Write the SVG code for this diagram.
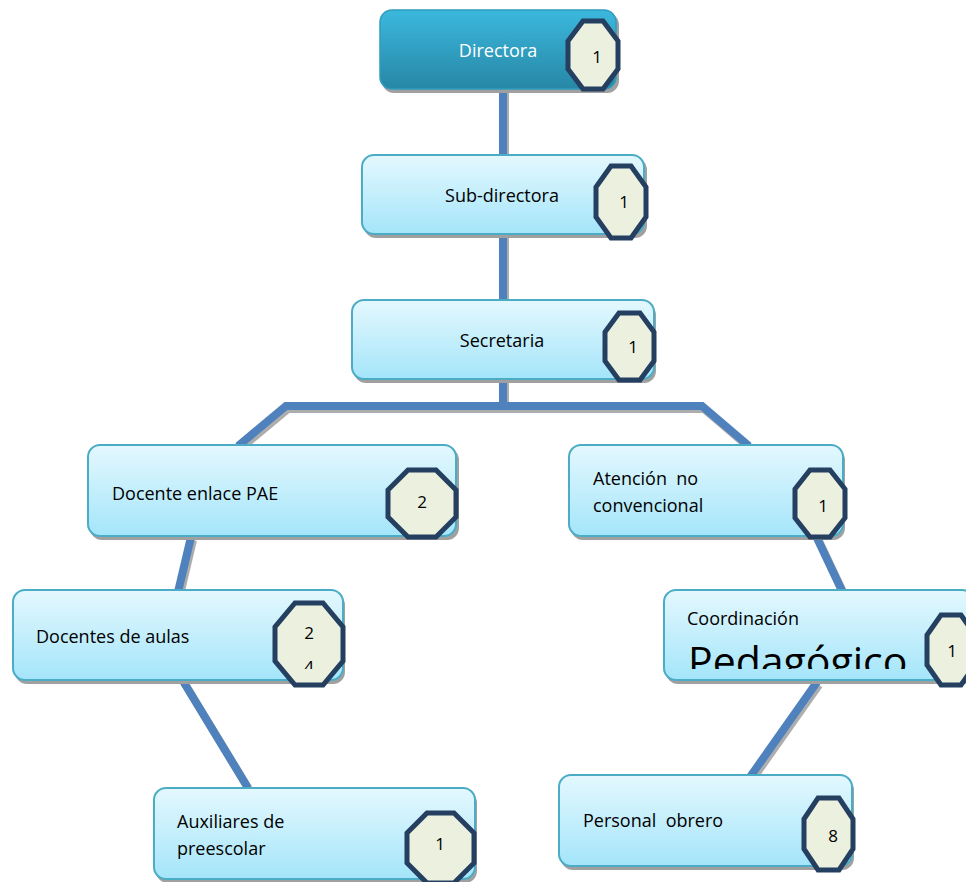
<svg xmlns="http://www.w3.org/2000/svg" width="966" height="882" viewBox="0 0 966 882">
<defs>
<linearGradient id="gLight" x1="0" y1="0" x2="0" y2="1">
<stop offset="0" stop-color="#e4f8fe"/>
<stop offset="1" stop-color="#a4e5fa"/>
</linearGradient>
<linearGradient id="gDark" x1="0" y1="0" x2="0" y2="1">
<stop offset="0" stop-color="#3bb8dd"/>
<stop offset="1" stop-color="#2787a6"/>
</linearGradient>
<clipPath id="clipAulas"><rect x="270" y="600" width="80" height="69"/></clipPath>
<clipPath id="clipCoord"><rect x="660" y="585" width="310" height="84"/></clipPath>
</defs>
<style>
.shadow{fill:#a0a0a0;}
.box{fill:url(#gLight);stroke:#4bacc6;stroke-width:2;}
.boxDark{fill:url(#gDark);stroke:#2f9cbf;stroke-width:1.5;}
.oct{fill:#ebf1de;stroke:#243f60;stroke-width:5;stroke-linejoin:miter;}
.lbl{font-family:"Open Sans","Liberation Sans",sans-serif;font-size:18px;fill:#000;white-space:pre;}
.num{font-family:"Open Sans","Liberation Sans",sans-serif;font-size:17px;fill:#000;text-anchor:middle;}
.conn{stroke:#4f81bd;stroke-width:8;fill:none;stroke-linecap:butt;stroke-linejoin:miter;}
.connSh{stroke:#8a8a8a;stroke-width:8;fill:none;stroke-linecap:butt;opacity:0.7;}
</style>
<rect width="966" height="882" fill="#ffffff"/>

<g id="connectors">
<g transform="translate(2,3)">
<line class="connSh" x1="503" y1="89" x2="503" y2="155"/>
<line class="connSh" x1="503" y1="235" x2="503" y2="300"/>
<line class="connSh" x1="503" y1="380" x2="503" y2="406"/>
<polyline class="connSh" points="238,446 286,406 702,406 749,446"/>
<line class="connSh" x1="191" y1="537" x2="178" y2="592"/>
<line class="connSh" x1="183" y1="681" x2="248" y2="788"/>
<line class="connSh" x1="817" y1="538" x2="843" y2="593"/>
<line class="connSh" x1="817" y1="682" x2="750" y2="777"/>
</g>
<line class="conn" x1="503" y1="89" x2="503" y2="155"/>
<line class="conn" x1="503" y1="235" x2="503" y2="300"/>
<line class="conn" x1="503" y1="380" x2="503" y2="406"/>
<polyline class="conn" points="238,446 286,406 702,406 749,446"/>
<line class="conn" x1="191" y1="537" x2="178" y2="592"/>
<line class="conn" x1="183" y1="681" x2="248" y2="788"/>
<line class="conn" x1="817" y1="538" x2="843" y2="593"/>
<line class="conn" x1="817" y1="682" x2="750" y2="777"/>
</g>

<g id="directora">
<rect class="shadow" x="382" y="13" width="237" height="80" rx="12"/>
<rect class="boxDark" x="380" y="10" width="236" height="79" rx="12"/>
<text class="lbl" x="498" y="57" text-anchor="middle" style="fill:#ffffff">Directora</text>
<polygon class="oct" points="583,21 603,21 618,41 618,69 603,89 583,89 568,69 568,41"/>
<text class="num" x="597" y="63">1</text>
</g>

<g id="subdirectora">
<rect class="shadow" x="364" y="158" width="283" height="80" rx="12"/>
<rect class="box" x="362" y="155" width="282" height="79" rx="12"/>
<text class="lbl" x="502" y="202" text-anchor="middle">Sub-directora</text>
<polygon class="oct" points="611,166 631,166 646,187 646,217 631,238 611,238 596,217 596,187"/>
<text class="num" x="624" y="208">1</text>
</g>

<g id="secretaria">
<rect class="shadow" x="354" y="303" width="302" height="80" rx="12"/>
<rect class="box" x="352" y="300" width="302" height="79" rx="12"/>
<text class="lbl" x="502" y="347" text-anchor="middle">Secretaria</text>
<polygon class="oct" points="619,313 640,313 654,332 654,361 640,380 619,380 605,361 605,332"/>
<text class="num" x="633" y="353">1</text>
</g>

<g id="docente-enlace">
<rect class="shadow" x="90" y="448" width="369" height="92" rx="12"/>
<rect class="box" x="88" y="445" width="368" height="91" rx="12"/>
<text class="lbl" x="112" y="500">Docente enlace PAE</text>
<polygon class="oct" points="408,470 436,470 456,490 456,517 436,537 408,537 388,517 388,490"/>
<text class="num" x="422" y="508">2</text>
</g>

<g id="atencion">
<rect class="shadow" x="571" y="448" width="274" height="92" rx="12"/>
<rect class="box" x="569" y="445" width="274" height="91" rx="12"/>
<text class="lbl" x="593" y="485" xml:space="preserve">Atención  no</text>
<text class="lbl" x="593" y="512">convencional</text>
<polygon class="oct" points="810,470 830,470 845,489 845,518 830,537 810,537 795,518 795,489"/>
<text class="num" x="823" y="512">1</text>
</g>

<g id="docentes-aulas">
<rect class="shadow" x="15" y="593" width="330" height="91" rx="12"/>
<rect class="box" x="13" y="590" width="330" height="90" rx="12"/>
<text class="lbl" x="36" y="643">Docentes de aulas</text>
<polygon class="oct" points="295,603 323,603 343,627 343,661 323,685 295,685 275,661 275,627"/>
<text class="num" x="309" y="639">2</text>
<text class="num" x="309" y="673" clip-path="url(#clipAulas)">4</text>
</g>

<g id="coordinacion">
<rect class="shadow" x="666" y="593" width="310" height="91" rx="12"/>
<rect class="box" x="664" y="590" width="310" height="90" rx="12"/>
<text class="lbl" x="687" y="625">Coordinación</text>
<text x="688" y="676" clip-path="url(#clipCoord)" style="font-family:'Open Sans','Liberation Sans',sans-serif;font-size:41px;fill:#000">Pedagógico</text>
<polygon class="oct" points="941,615 961,615 975,635 975,665 961,685 941,685 927,665 927,635"/>
<text class="num" x="952" y="657">1</text>
</g>

<g id="personal-obrero">
<rect class="shadow" x="561" y="778" width="293" height="92" rx="12"/>
<rect class="box" x="559" y="775" width="293" height="91" rx="12"/>
<text class="lbl" x="583" y="827" xml:space="preserve">Personal  obrero</text>
<polygon class="oct" points="818,798 839,798 853,819 853,849 839,870 818,870 804,849 804,819"/>
<text class="num" x="833" y="842">8</text>
</g>

<g id="auxiliares">
<rect class="shadow" x="156" y="791" width="321" height="92" rx="12"/>
<rect class="box" x="154" y="788" width="321" height="91" rx="12"/>
<text class="lbl" x="177" y="828">Auxiliares de</text>
<text class="lbl" x="177" y="855">preescolar</text>
<polygon class="oct" points="427,813 454,813 474,833 474,863 454,883 427,883 407,863 407,833"/>
<text class="num" x="440" y="850">1</text>
</g>
</svg>
